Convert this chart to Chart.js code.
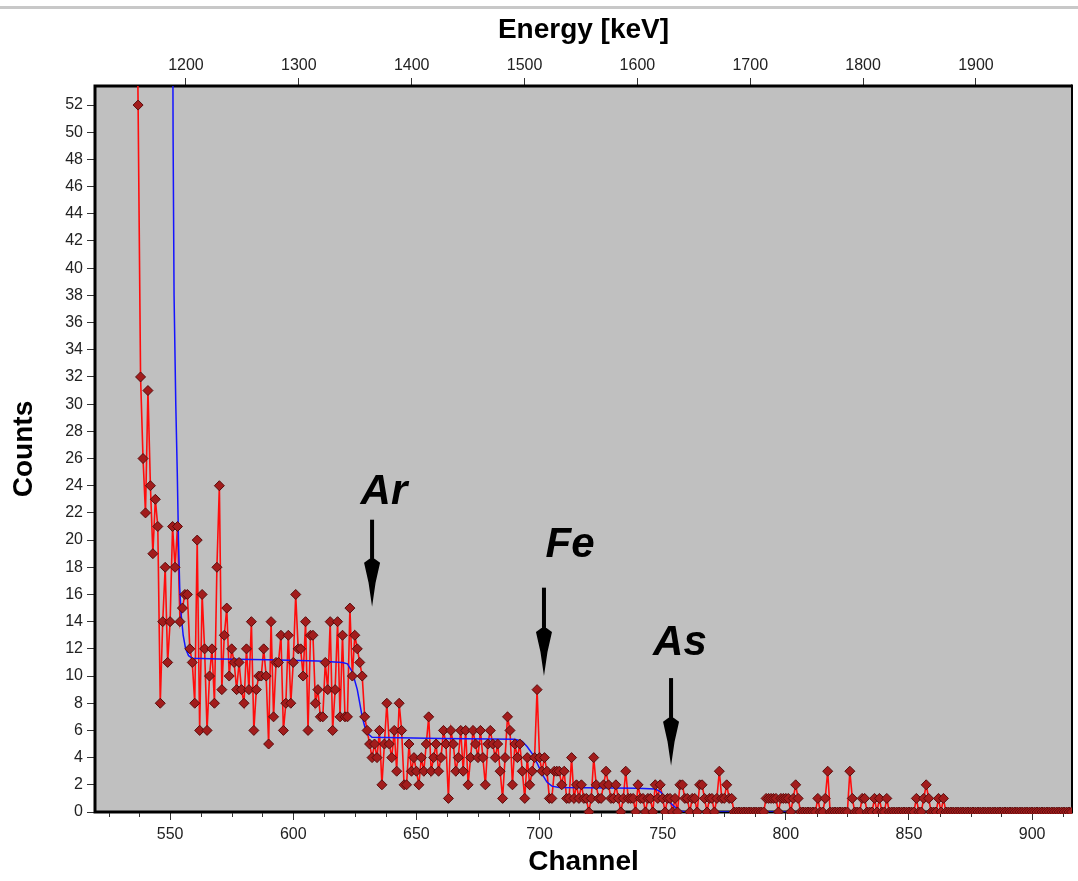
<!DOCTYPE html>
<html>
<head>
<meta charset="utf-8">
<script src="https://cdn.jsdelivr.net/npm/chart.js@4.4.0/dist/chart.umd.min.js"></script>
<style>
  html, body { margin: 0; padding: 0; background: #fff; }
  #wrap { position: relative; width: 1078px; height: 881px; }
  #topline { position: absolute; left: 0; top: 6px; width: 1078px; height: 3px; background: #c8c8c8; }
</style>
</head>
<body>
<div id="wrap">
  <canvas id="chart" width="1078" height="881"></canvas>
  <div id="topline"></div>
</div>
<script>
// measured spectrum, one value per channel starting at firstChannel
const firstChannel = 535;
const counts = [
  90, 70, 52, 32, 26, 22, 31, 24, 19, 23,
  21, 8, 14, 18, 11, 14, 21, 18, 21, 14,
  15, 16, 16, 12, 11, 8, 20, 6, 16, 12,
  6, 10, 12, 8, 18, 24, 9, 13, 15, 10,
  12, 11, 9, 11, 9, 8, 12, 9, 14, 6,
  9, 10, 10, 12, 10, 5, 14, 7, 11, 11,
  13, 6, 8, 13, 8, 11, 16, 12, 12, 10,
  14, 6, 13, 13, 8, 9, 7, 7, 11, 9,
  14, 6, 9, 14, 7, 13, 7, 7, 15, 10,
  13, 12, 11, 10, 7, 6, 5, 4, 5, 4,
  6, 2, 5, 8, 5, 4, 6, 3, 8, 6,
  2, 2, 5, 3, 4, 3, 2, 4, 3, 5,
  7, 3, 4, 5, 3, 4, 6, 5, 1, 6,
  5, 3, 4, 6, 3, 6, 2, 4, 6, 5,
  4, 6, 4, 2, 5, 6, 5, 4, 5, 3,
  1, 4, 7, 6, 2, 5, 4, 5, 3, 1,
  4, 2, 3, 4, 9, 4, 3, 4, 3, 1,
  1, 3, 3, 3, 2, 3, 1, 1, 4, 1,
  2, 1, 2, 1, 1, 0, 1, 4, 2, 1,
  1, 2, 3, 2, 1, 1, 2, 1, 0, 1,
  3, 1, 1, 1, 0, 2, 1, 1, 0, 1,
  1, 0, 2, 1, 2, 1, 0, 1, 1, 0,
  1, 0, 2, 2, 1, 1, 0, 1, 1, 0,
  2, 2, 1, 0, 1, 1, 0, 1, 3, 1,
  1, 2, 1, 1, 0, 0, 0, 0, 0, 0,
  0, 0, 0, 0, 0, 0, 0, 1, 1, 1,
  1, 1, 0, 1, 1, 1, 1, 0, 1, 2,
  1, 0, 0, 0, 0, 0, 0, 0, 1, 0,
  0, 1, 3, 0, 0, 0, 0, 0, 0, 0,
  0, 3, 1, 0, 0, 0, 1, 1, 0, 0,
  0, 1, 0, 1, 0, 0, 1, 0, 0, 0,
  0, 0, 0, 0, 0, 0, 0, 0, 1, 0,
  0, 1, 2, 1, 0, 0, 0, 1, 0, 1,
  0, 0, 0, 0, 0, 0, 0, 0, 0, 0,
  0, 0, 0, 0, 0, 0, 0, 0, 0, 0,
  0, 0, 0, 0, 0, 0, 0, 0, 0, 0,
  0, 0, 0, 0, 0, 0, 0, 0, 0, 0,
  0, 0, 0, 0, 0, 0, 0, 0, 0, 0,
  0, 0
];

// fitted background (blue)
const fitChannels = [550.6, 551.2, 551.6, 552.3, 552.9, 553.4, 553.9, 554.5, 555.3, 556.3, 557.5, 559,
  570, 590, 610, 620, 622, 624, 626, 627, 628, 629, 630, 632,
  660, 690, 693, 695, 697, 699, 701, 703, 705, 708,
  740, 747, 749, 751, 753, 755, 757, 759, 916];
const fitCounts = [90, 50, 38, 30, 25, 20, 16.5, 14.5, 13, 12, 11.5, 11.3,
  11.25, 11.2, 11.1, 11.0, 10.9, 10.3, 9.0, 8.0, 7.0, 6.3, 5.8, 5.5,
  5.4, 5.35, 5.2, 4.8, 4.3, 3.6, 2.8, 2.2, 1.9, 1.8,
  1.75, 1.7, 1.5, 1.1, 0.7, 0.35, 0.1, 0, 0];

// axis ranges
const channelMin = 519.5, channelMax = 916.2;
const energyMin = 1119.4, energyMax = 1985.1;
const countsMax = 53.4;

// peak annotations
const peakNames = ['Ar', 'Fe', 'As'];
const arrowChannel = [632, 701.8, 753.4];
const arrowTip = [15.1, 10.0, 3.4];
const arrowTail = [21.5, 16.5, 9.85];
const nameChannel = [636.8, 712.4, 757];
const nameCount = [23.5, 19.6, 12.4];

const spectrum = counts.map((c, i) => ({ x: firstChannel + i, y: c }));
const fit = fitChannels.map((ch, i) => ({ x: ch, y: fitCounts[i] }));

const FONT = '"Liberation Sans", Arial, sans-serif';

const plotFrame = {
  id: 'plotFrame',
  beforeDraw(chart) {
    const { ctx, chartArea: a } = chart;
    ctx.save();
    ctx.fillStyle = '#c0c0c0';
    ctx.fillRect(a.left, a.top, a.right - a.left, a.bottom - a.top);
    ctx.restore();
  },
  beforeDatasetsDraw(chart) {
    const { ctx, chartArea: a } = chart;
    ctx.save();
    ctx.strokeStyle = '#000';
    ctx.lineWidth = 3;
    ctx.beginPath();
    ctx.moveTo(a.right, a.top);
    ctx.lineTo(a.left, a.top);
    ctx.lineTo(a.left, a.bottom);
    ctx.lineTo(a.right, a.bottom);
    ctx.stroke();
    ctx.lineWidth = 2;
    ctx.beginPath();
    ctx.moveTo(a.right, a.top - 1.5);
    ctx.lineTo(a.right, a.bottom + 1.5);
    ctx.stroke();

    // minor ticks on the channel axis
    const xs = chart.scales.x;
    ctx.lineWidth = 1;
    ctx.strokeStyle = '#333';
    for (let v = 525; v <= xs.max; v += 12.5) {
      if (v % 50 === 0) continue;
      const px = Math.round(xs.getPixelForValue(v)) + 0.5;
      ctx.beginPath();
      ctx.moveTo(px, a.bottom + 1);
      ctx.lineTo(px, a.bottom + 5);
      ctx.stroke();
    }
    ctx.restore();
  }
};

const peakMarks = {
  id: 'peakMarks',
  afterDatasetsDraw(chart) {
    const { ctx, scales: { x, y } } = chart;
    ctx.save();
    ctx.fillStyle = '#000';
    peakNames.forEach((name, i) => {
      const px = x.getPixelForValue(arrowChannel[i]);
      const tip = y.getPixelForValue(arrowTip[i]);
      const tail = y.getPixelForValue(arrowTail[i]);
      ctx.fillRect(px - 2, tail, 4, tip - tail - 40);
      ctx.beginPath();
      ctx.moveTo(px - 2.5, tip - 48);
      ctx.lineTo(px - 8, tip - 44);
      ctx.lineTo(px - 3.5, tip - 24);
      ctx.lineTo(px, tip);
      ctx.lineTo(px + 3.5, tip - 24);
      ctx.lineTo(px + 8, tip - 44);
      ctx.lineTo(px + 2.5, tip - 48);
      ctx.closePath();
      ctx.fill();

      ctx.font = 'italic bold 42px ' + FONT;
      ctx.textAlign = 'center';
      ctx.textBaseline = 'middle';
      ctx.fillText(name, x.getPixelForValue(nameChannel[i]), y.getPixelForValue(nameCount[i]));
    });
    ctx.restore();
  }
};

const tickFont = { family: FONT, size: 16 };
const titleFont = { family: FONT, size: 28, weight: 'bold' };
const tickGrid = { display: true, drawOnChartArea: false, drawTicks: true, tickLength: 8, tickColor: '#333', tickWidth: 1 };

new Chart(document.getElementById('chart'), {
  type: 'line',
  data: {
    datasets: [{
      // markers on top
      data: spectrum,
      showLine: false,
      pointStyle: 'rectRot',
      pointRadius: 5,
      pointBackgroundColor: '#a21c1c',
      pointBorderColor: '#5a0c0c',
      pointBorderWidth: 1,
      clip: { left: 0, top: 0, right: 0, bottom: 2 }
    }, {
      data: fit,
      borderColor: '#1414ff',
      borderWidth: 1.5,
      pointRadius: 0,
      tension: 0,
      clip: 0
    }, {
      data: spectrum,
      borderColor: '#ff0c0c',
      borderWidth: 1.6,
      pointRadius: 0,
      tension: 0,
      clip: 0
    }]
  },
  options: {
    responsive: false,
    animation: false,
    layout: { padding: { left: 0, right: 6, top: 0, bottom: 0 } },
    plugins: { legend: { display: false }, tooltip: { enabled: false } },
    scales: {
      x: {
        type: 'linear', position: 'bottom', min: channelMin, max: channelMax,
        afterFit: s => { s.height = 69; },
        grid: tickGrid,
        border: { display: false },
        ticks: { stepSize: 50, includeBounds: false, autoSkip: false, maxRotation: 0, padding: 5, color: '#222', font: tickFont },
        title: { display: true, text: 'Channel', color: '#000', font: titleFont, padding: { top: 0, bottom: 2 } }
      },
      x2: {
        type: 'linear', position: 'top', min: energyMin, max: energyMax,
        afterFit: s => { s.height = 86; },
        grid: tickGrid,
        border: { display: false },
        ticks: { stepSize: 100, includeBounds: false, autoSkip: false, maxRotation: 0, padding: 3, color: '#222', font: tickFont,
          callback: v => String(v) },
        title: { display: true, text: 'Energy [keV]', color: '#000', font: titleFont, padding: { top: 13, bottom: 0 } }
      },
      y: {
        type: 'linear', position: 'left', min: 0, max: countsMax,
        afterFit: s => { s.width = 95; },
        grid: tickGrid,
        border: { display: false },
        ticks: { stepSize: 2, includeBounds: false, autoSkip: false, padding: 4, color: '#222', font: tickFont },
        title: { display: true, text: 'Counts', color: '#000', font: titleFont, padding: { top: 7, bottom: 0 } }
      }
    }
  },
  plugins: [plotFrame, peakMarks]
});
</script>
</body>
</html>
